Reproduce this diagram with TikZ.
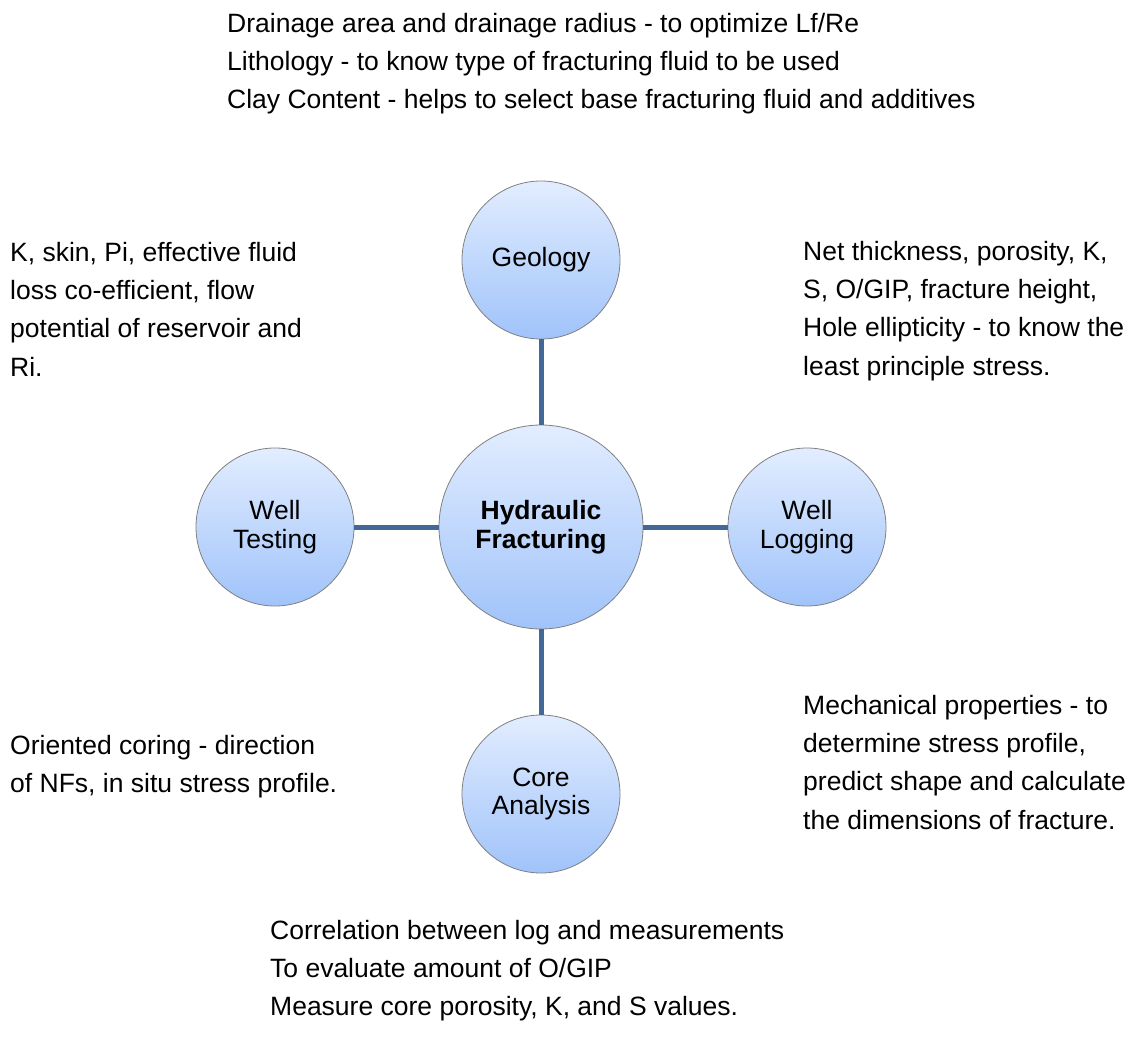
\documentclass[tikz,border=0pt]{standalone}
\usepackage{fontspec}
\setmainfont{Liberation Sans}
\usepackage{tikz}
\definecolor{linkblue}{RGB}{66,104,152}
\definecolor{balltop}{RGB}{226,237,255}
\definecolor{ballbot}{RGB}{160,195,250}
\definecolor{ballrim}{RGB}{128,128,128}

\begin{document}
\begin{tikzpicture}[x=1pt,y=-1pt,
    ball/.style={circle,draw=ballrim,line width=0.8pt,top color=balltop,bottom color=ballbot,
      minimum size=158pt,inner sep=0pt,align=center,font=\fontsize{26.5}{28.5}\selectfont},
    hub/.style={ball,minimum size=204pt,font=\fontsize{26.5}{28.5}\selectfont\bfseries},
    note/.style={anchor=north west,inner sep=0pt,align=left,font=\fontsize{26.5}{38.2}\selectfont},
    link/.style={draw=linkblue,line width=5pt}]

      \fill [white] (0,0) rectangle (1136,1044);
      \useasboundingbox (0,0) rectangle (1136,1044);

      % circles
      \node [hub]  (frac) at (541,527) {Hydraulic\\Fracturing};
      \node [ball] (geo)  at (541,260) {Geology};
      \node [ball] (test) at (275,527) {Well\\Testing};
      \node [ball] (log)  at (807,527) {Well\\Logging};
      \node [ball] (core) at (541,794) {Core\\Analysis};

      \draw [link] (frac) -- (geo);
      \draw [link] (frac) -- (test);
      \draw [link] (frac) -- (log);
      \draw [link] (frac) -- (core);

      % notes
      \node [note] (geonote) at (227,13)
        {Drainage area and drainage radius - to optimize Lf/Re\\
         Lithology - to know type of fracturing fluid to be used\\
         Clay Content - helps to select base fracturing fluid and additives};
      \node [note] (testnote) at (10,242)
        {K, skin, Pi, effective fluid\\loss co-efficient, flow\\potential of reservoir and\\Ri.};
      \node [note] (lognote) at (803,241)
        {Net thickness, porosity, K,\\S, O/GIP, fracture height,\\Hole ellipticity - to know the\\least principle stress.};
      \node [note] (corenote) at (10,735)
        {Oriented coring - direction\\of NFs, in situ stress profile.};
      \node [note] (mechnote) at (803,695)
        {Mechanical properties - to\\determine stress profile,\\predict shape and calculate\\the dimensions of fracture.};
      \node [note] (measnote) at (270,920)
        {Correlation between log and measurements\\
         To evaluate amount of O/GIP\\
         Measure core porosity, K, and S values.};

\end{tikzpicture}
\end{document}
